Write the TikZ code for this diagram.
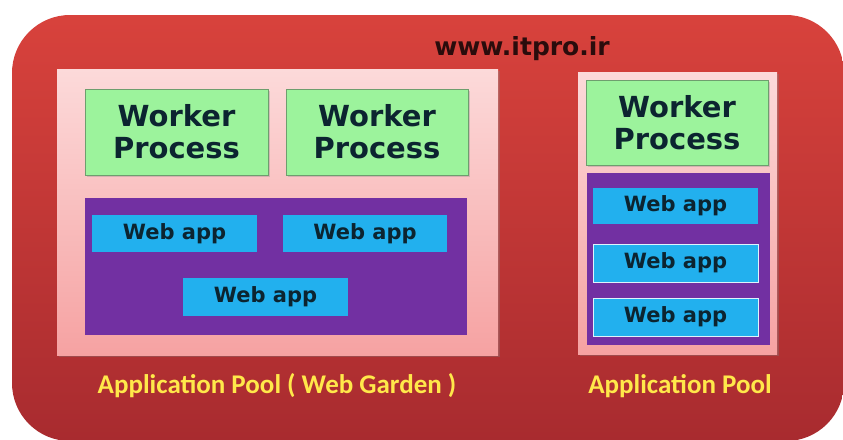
\documentclass[tikz,border=0pt]{standalone}
\usepackage{fontspec}
\setmainfont{DejaVu Sans}
\newfontfamily\dvs{DejaVu Sans}
\newfontfamily\crl{Carlito}
\usetikzlibrary{shadows}
\definecolor{redtop}{HTML}{D8423C}
\definecolor{redbot}{HTML}{A82B2F}
\definecolor{pinktop}{HTML}{FCDADA}
\definecolor{pinkbot}{HTML}{F6A2A2}
\definecolor{wpgreen}{HTML}{9CF39C}
\definecolor{wpedge}{HTML}{6E9E6E}
\definecolor{wapurple}{HTML}{7230A2}
\definecolor{wablue}{HTML}{22B0EE}
\definecolor{txtdark}{HTML}{0C2430}
\definecolor{urldark}{HTML}{2A0C0C}
\definecolor{lblyellow}{HTML}{FFE84A}
\tikzset{
  box/.style={rectangle, inner sep=0pt, outer sep=0pt},
  poolbox/.style={box, top color=pinktop, bottom color=pinkbot, draw=none,
    drop shadow={shadow xshift=2pt, shadow yshift=-2pt, opacity=0.35}},
  workerbox/.style={box, fill=wpgreen, draw=wpedge, line width=1pt, align=center,
    text=txtdark, font=\dvs\bfseries\fontsize{29}{32}\selectfont,
    drop shadow={shadow xshift=1.5pt, shadow yshift=-1.5pt, opacity=0.3}},
  appsbox/.style={box, fill=wapurple, draw=none},
  webbox/.style={box, fill=wablue, draw=none, text=txtdark,
    font=\dvs\bfseries\fontsize{21}{24}\selectfont},
  webboxw/.style={webbox, draw=white!85!wablue, line width=1pt},
  lbl/.style={anchor=base, inner sep=0pt, text=lblyellow,
    font=\crl\bfseries\fontsize{27}{30}\selectfont},
}
\begin{document}
\begin{tikzpicture}[x=1pt,y=-1pt]
\useasboundingbox (0,0) rectangle (843,439);
\fill[white] (0,0) rectangle (843,439);
\begin{scope}
\clip (0,0) rectangle (843,439);
\node[box, top color=redtop, bottom color=redbot, rounded corners=58pt,
  minimum width=832pt, minimum height=426pt] (outer) at (428,228) {};
\end{scope}
\node[anchor=base, inner sep=0pt, text=urldark,
  font=\dvs\bfseries\fontsize{25}{28}\selectfont] (url) at (522,55) {www.itpro.ir};

% left pool (web garden)
\node[poolbox, minimum width=441pt, minimum height=286pt] (poolL) at (277.5,212) {};
\node[workerbox, minimum width=183pt, minimum height=86pt] (wp1) at (176.5,132) {Worker\\Process};
\node[workerbox, minimum width=182pt, minimum height=86pt] (wp2) at (377,132) {Worker\\Process};
\node[appsbox, minimum width=382pt, minimum height=137pt] (appsL) at (276,266.5) {};
\node[webbox, minimum width=165pt, minimum height=37pt] (wa1) at (174.5,233.5) {Web app};
\node[webbox, minimum width=164pt, minimum height=37pt] (wa2) at (365,233.5) {Web app};
\node[webbox, minimum width=165pt, minimum height=38pt] (wa3) at (265.5,297) {Web app};
\node[lbl] (lblL) at (277,393) {Application Pool ( Web Garden )};

% right pool
\node[poolbox, minimum width=199pt, minimum height=282pt] (poolR) at (677.5,213) {};
\node[workerbox, minimum width=182pt, minimum height=85pt] (wp3) at (677,122.5) {Worker\\Process};
\node[appsbox, minimum width=183pt, minimum height=172pt] (appsR) at (678.5,259) {};
\node[webbox, minimum width=165pt, minimum height=36pt] (wa4) at (675.5,206) {Web app};
\node[webboxw, minimum width=165pt, minimum height=38pt] (wa5) at (675.5,263) {Web app};
\node[webboxw, minimum width=165pt, minimum height=38pt] (wa6) at (675.5,317) {Web app};
\node[lbl] (lblR) at (680,393) {Application Pool};
\end{tikzpicture}
\end{document}
